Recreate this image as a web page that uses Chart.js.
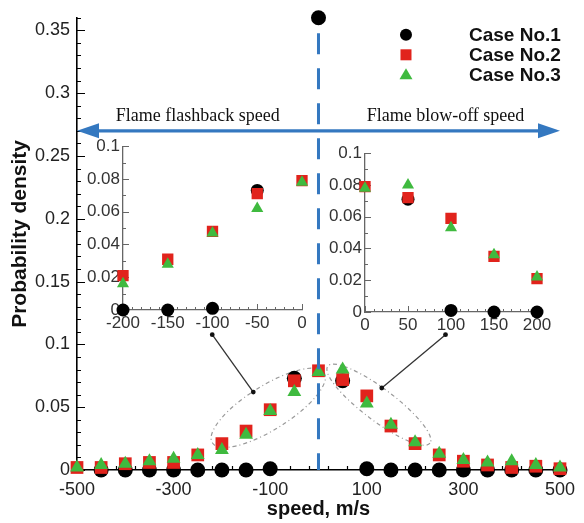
<!DOCTYPE html>
<html><head><meta charset="utf-8">
<script src="https://cdn.jsdelivr.net/npm/chart.js@4/dist/chart.umd.min.js"></script>
<style>
html,body{margin:0;padding:0;background:#fff;}
#wrap{position:relative;width:584px;height:523px;overflow:hidden;}
canvas{position:absolute;}
</style></head><body>
<div id="wrap">
<canvas id="main" width="584" height="523" style="left:0;top:0;width:584px;height:523px"></canvas>
<canvas id="inL" width="245" height="205" style="left:75px;top:133px;width:245px;height:205px"></canvas>
<canvas id="inR" width="245" height="205" style="left:318px;top:140px;width:245px;height:205px"></canvas>
</div>
<script>
// ---------- data ----------
const speeds = [-500,-450,-400,-350,-300,-250,-200,-150,-100,-50,0,50,100,150,200,250,300,350,400,450,500];
const case1  = [null,0,0,0,0,0,0,0,0.001,0.073,0.36,0.071,0.001,0,0,0,0,0,0,0,0];
const case2  = [0.002,0.002,0.005,0.006,0.006,0.012,0.021,0.031,0.048,0.071,0.079,0.072,0.059,0.035,0.021,0.012,0.007,0.004,0.002,0.003,0.001];
const case3  = [0.002,0.004,0.005,0.007,0.009,0.012,0.016,0.028,0.047,0.062,0.078,0.080,0.053,0.036,0.022,0.013,0.008,0.006,0.007,0.004,0.002];
const legendLabels = ['Case No.1','Case No.2','Case No.3'];
const regionLabels = ['Flame flashback speed','Flame blow-off speed'];
const yTitle = 'Probability density';
const xTitle = 'speed, m/s';
const mainXTicks = [-500,-300,-100,100,300,500];
const mainYTicks = [0,0.05,0.1,0.15,0.2,0.25,0.3,0.35];
const leftInsetXTicks  = [-200,-150,-100,-50,0];
const rightInsetXTicks = [0,50,100,150,200];
const insetYTicks = [0,0.02,0.04,0.06,0.08,0.1];

const RED = '#e1231c', GREEN = '#3fba3f', BLACK = '#000', BLUE = '#3478c0';
Chart.defaults.font.family = "'Liberation Sans', Arial, sans-serif";

function pts(arr, lo, hi){
  return speeds.map((s,i)=>({x:s,y:arr[i]}))
    .filter(p=>p.y!==null && p.x>=lo && p.x<=hi);
}
function fmt(v){ return String(+(+v).toFixed(3)); }

// inward tick marks
const inTicks = {
  id:'inTicks',
  beforeDatasetsDraw(chart, args, o){
    if(!o || !o.color) return;
    const {ctx, chartArea:a, scales:{x,y}} = chart;
    ctx.save(); ctx.strokeStyle=o.color; ctx.lineWidth=o.width; ctx.beginPath();
    const addX=(start,end,step,len)=>{ for(let v=start; v<=end+1e-9; v+=step){ const p=Math.round(x.getPixelForValue(v))+0.5; ctx.moveTo(p,a.bottom); ctx.lineTo(p,a.bottom-len);} };
    const addY=(start,end,step,len)=>{ for(let v=start; v<=end+1e-9; v+=step){ const p=Math.round(y.getPixelForValue(v))+0.5; ctx.moveTo(a.left,p); ctx.lineTo(a.left+len,p);} };
    addX(o.x[0],o.x[1],o.x[2],o.xLen[0]); addX(o.x[0],o.x[1],o.x[3],o.xLen[1]);
    addY(o.y[0],o.y[1],o.y[2],o.yLen[0]); addY(o.y[0],o.y[1],o.y[3],o.yLen[1]);
    ctx.stroke(); ctx.restore();
  }
};

// annotations for main chart
function ellipseAt(ctx, x, y, c, rx, ry, rotDeg){
  const cx=x.getPixelForValue(c[0]), cy=y.getPixelForValue(c[1]);
  ctx.beginPath(); ctx.ellipse(cx,cy,rx,ry,rotDeg*Math.PI/180,0,Math.PI*2); ctx.stroke();
}
const ellL = {c:[-104,0.0495], rx:66, ry:22, rot:-32};
const ellR = {c:[125,0.052], rx:64, ry:16, rot:37};
const connL = [[-220,0.1077],[-135,0.062]];
const connR = [[263,0.1077],[131,0.0653]];
const arrowY = 0.27;
const regionX = [-250,263];

const mainDeco = {
  id:'mainDeco',
  beforeDatasetsDraw(chart){
    const {ctx, chartArea:a, scales:{x,y}} = chart;
    ctx.save();
    // y axis title
    ctx.save();
    ctx.translate(20, (a.top+a.bottom)/2 - 10);
    ctx.rotate(-Math.PI/2);
    ctx.fillStyle='#111'; ctx.font="bold 21px 'Liberation Sans', Arial, sans-serif";
    ctx.textAlign='center'; ctx.textBaseline='middle';
    ctx.fillText(yTitle,0,0);
    ctx.restore();
    ctx.strokeStyle='#9a9a9a'; ctx.lineWidth=1.2; ctx.setLineDash([4,3,1,3]);
    ellipseAt(ctx,x,y,ellL.c,ellL.rx,ellL.ry,ellL.rot);
    ellipseAt(ctx,x,y,ellR.c,ellR.rx,ellR.ry,ellR.rot);
    ctx.setLineDash([]); ctx.strokeStyle='#333'; ctx.fillStyle='#111'; ctx.lineWidth=1.3;
    for(const c of [connL,connR]){
      const p0=[x.getPixelForValue(c[0][0]), y.getPixelForValue(c[0][1])];
      const p1=[x.getPixelForValue(c[1][0]), y.getPixelForValue(c[1][1])];
      ctx.beginPath(); ctx.moveTo(p0[0],p0[1]); ctx.lineTo(p1[0],p1[1]); ctx.stroke();
      for(const p of [p0,p1]){ ctx.beginPath(); ctx.arc(p[0],p[1],2.4,0,Math.PI*2); ctx.fill(); }
    }
    // arrow
    const ay=y.getPixelForValue(arrowY), xl=x.getPixelForValue(-500), xr=x.getPixelForValue(500);
    ctx.strokeStyle=BLUE; ctx.fillStyle=BLUE; ctx.lineWidth=3.2;
    ctx.beginPath(); ctx.moveTo(xl+18,ay); ctx.lineTo(xr-18,ay); ctx.stroke();
    ctx.beginPath(); ctx.moveTo(xl,ay); ctx.lineTo(xl+22,ay-7.5); ctx.lineTo(xl+22,ay+7.5); ctx.closePath(); ctx.fill();
    ctx.beginPath(); ctx.moveTo(xr,ay); ctx.lineTo(xr-22,ay-7.5); ctx.lineTo(xr-22,ay+7.5); ctx.closePath(); ctx.fill();
    ctx.fillStyle='#111'; ctx.font="18px 'Liberation Serif', 'Times New Roman', serif";
    ctx.textAlign='center'; ctx.textBaseline='alphabetic';
    ctx.fillText(regionLabels[0], x.getPixelForValue(regionX[0]), ay-10);
    ctx.fillText(regionLabels[1], x.getPixelForValue(regionX[1]), ay-10);
    ctx.restore();
  },
  afterDatasetsDraw(chart){
    const {ctx, chartArea:a, scales:{x,y}} = chart;
    ctx.save();
    // dashed vertical line at 0
    const x0=x.getPixelForValue(0);
    ctx.strokeStyle=BLUE; ctx.lineWidth=3; ctx.setLineDash([21,14]);
    ctx.beginPath(); ctx.moveTo(x0,y.getPixelForValue(0.35)+3); ctx.lineTo(x0,y.getPixelForValue(0)); ctx.stroke();
    ctx.setLineDash([]);
    // legend
    const mx=a.right-154, tx=a.right-91;
    const rows=[a.top+17,a.top+37,a.top+57];
    ctx.fillStyle=BLACK; ctx.beginPath(); ctx.arc(mx,rows[0],6,0,Math.PI*2); ctx.fill();
    ctx.fillStyle=RED; ctx.fillRect(mx-5.5,rows[1]-5.5,11,11);
    ctx.fillStyle=GREEN; ctx.beginPath(); ctx.moveTo(mx,rows[2]-6.5); ctx.lineTo(mx+6.5,rows[2]+4.5); ctx.lineTo(mx-6.5,rows[2]+4.5); ctx.closePath(); ctx.fill();
    ctx.fillStyle='#111'; ctx.font="bold 19px 'Liberation Sans', Arial, sans-serif";
    ctx.textAlign='left'; ctx.textBaseline='middle';
    legendLabels.forEach((t,i)=>ctx.fillText(t,tx,rows[i]+1));
    ctx.restore();
  }
};

function ds(lo, hi, r, clip){
  return [
    {label:legendLabels[0], data:pts(case1,lo,hi), pointStyle:'circle', pointRadius:r[0], backgroundColor:BLACK, borderWidth:0, order:3, clip:clip},
    {label:legendLabels[1], data:pts(case2,lo,hi), pointStyle:'rect', pointRadius:r[1], backgroundColor:RED, borderWidth:0, order:2, clip:clip},
    {label:legendLabels[2], data:pts(case3,lo,hi), pointStyle:'triangle', pointRadius:r[2], backgroundColor:GREEN, borderWidth:0, order:1, clip:clip}
  ];
}

// ---------- main chart ----------
new Chart(document.getElementById('main'), {
  type:'scatter',
  data:{datasets: ds(-500,500,[7.5,9,8],false)},
  options:{
    responsive:false, animation:false, events:[],
    layout:{padding:{top:12,right:22,left:0,bottom:0}},
    plugins:{legend:{display:false}, tooltip:{enabled:false},
      inTicks:{color:'#000', width:1.2, x:[-500,500,200,40], xLen:[8,4], y:[0,0.36,0.05,0.01], yLen:[8,4]}},
    scales:{
      x:{type:'linear', min:-500, max:500,
        afterBuildTicks:s=>{s.ticks=mainXTicks.map(v=>({value:v}));},
        afterFit:s=>{s.height=53;},
        grid:{display:false, drawTicks:false},
        border:{display:true, color:'#000', width:1.6},
        ticks:{font:{size:18}, color:'#222', padding:9, maxRotation:0, autoSkip:false, callback:v=>fmt(v)},
        title:{display:true, text:xTitle, color:'#111', font:{size:20, weight:'bold'}, padding:{top:0,bottom:2}}
      },
      y:{type:'linear', min:0, max:0.36,
        afterBuildTicks:s=>{s.ticks=mainYTicks.map(v=>({value:v}));},
        afterFit:s=>{s.width=77;},
        grid:{display:false, drawTicks:false},
        border:{display:true, color:'#000', width:1.6},
        ticks:{font:{size:18}, color:'#222', padding:7, autoSkip:false, callback:v=>fmt(v)}
      }
    }
  },
  plugins:[inTicks, mainDeco]
});

// ---------- insets ----------
function inset(id, lo, hi, xTicks, yW, padR, xH){
  new Chart(document.getElementById(id), {
    type:'scatter',
    data:{datasets: ds(lo,hi,[6.5,8,7],{left:12,top:0,right:12,bottom:12})},
    options:{
      responsive:false, animation:false, events:[],
      layout:{padding:{top:12,right:padR,left:0,bottom:0}},
      plugins:{legend:{display:false}, tooltip:{enabled:false},
        inTicks:{color:'#666', width:1, x:[lo,hi,50,10], xLen:[6,3], y:[0,0.1,0.02,0.01], yLen:[6,3]}},
      scales:{
        x:{type:'linear', min:lo, max:hi,
          afterBuildTicks:s=>{s.ticks=xTicks.map(v=>({value:v}));},
          afterFit:s=>{s.height=xH;},
          grid:{display:false, drawTicks:false},
          border:{display:true, color:'#666', width:1.3},
          ticks:{font:{size:17}, color:'#333', padding:3, maxRotation:0, autoSkip:false, callback:v=>fmt(v)}
        },
        y:{type:'linear', min:0, max:0.1,
          afterBuildTicks:s=>{s.ticks=insetYTicks.map(v=>({value:v}));},
          afterFit:s=>{s.width=yW;},
          grid:{display:false, drawTicks:false},
          border:{display:true, color:'#666', width:1.3},
          ticks:{font:{size:17}, color:'#333', padding:3, autoSkip:false, callback:v=>fmt(v)}
        }
      }
    },
    plugins:[inTicks]
  });
}
inset('inL', -200, 0, leftInsetXTicks, 48, 18, 28);
inset('inR', 0, 200, rightInsetXTicks, 47, 26, 33);
</script>
</body></html>
